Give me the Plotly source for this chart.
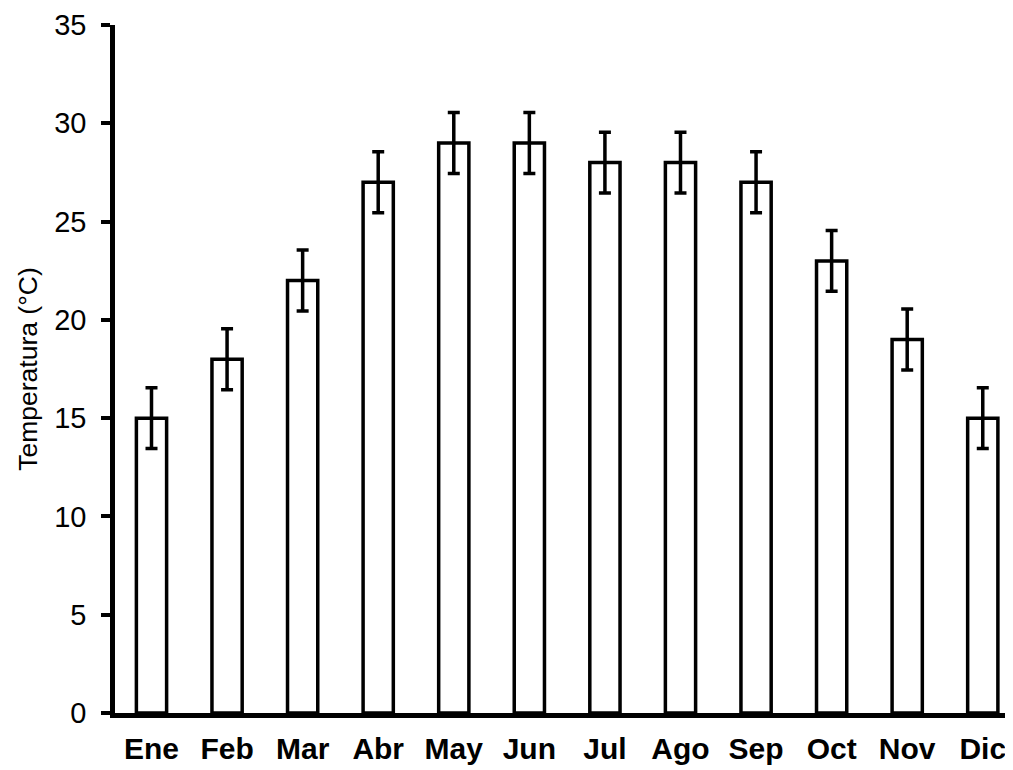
import plotly.graph_objects as go

months = ["Ene", "Feb", "Mar", "Abr", "May", "Jun", "Jul", "Ago", "Sep", "Oct", "Nov", "Dic"]
temps = [15, 18, 22, 27, 29, 29, 28, 28, 27, 23, 19, 15]
errors = [1.55, 1.55, 1.55, 1.55, 1.55, 1.55, 1.55, 1.55, 1.55, 1.55, 1.55, 1.55]
y_ticks = [0, 5, 10, 15, 20, 25, 30, 35]

FONT = "Liberation Sans, Arial, sans-serif"

fig = go.Figure(
    go.Bar(
        x=months,
        y=temps,
        width=0.4,
        marker=dict(color="white", line=dict(color="black", width=3.5)),
        error_y=dict(type="data", array=errors, visible=True,
                     color="black", thickness=3.5, width=6),
    )
)

# the page body adds an 8px offset, so the figure is sized to compensate
fig.update_layout(
    width=1005, height=762,
    margin=dict(l=107, r=0, t=17, b=57),
    plot_bgcolor="white", paper_bgcolor="white",
    showlegend=False,
    font=dict(family=FONT, color="black"),
)

fig.update_xaxes(
    type="category",
    range=[-0.483, 11.4],
    automargin=False,
    showline=True, linecolor="black", linewidth=4.5,
    showgrid=False, ticks="",
    tickfont=dict(size=30, family=FONT, weight="bold"),
    ticklabelstandoff=5,
)

fig.update_yaxes(
    range=[0, 35],
    automargin=False,
    tickvals=y_ticks,
    showline=True, linecolor="black", linewidth=4.5,
    showgrid=False, zeroline=False,
    ticks="outside", ticklen=9, tickwidth=4, tickcolor="black",
    tickfont=dict(size=29),
    ticklabelstandoff=9,
    title=dict(text="Temperatura (°C)", font=dict(size=26.5), standoff=10),
)

fig.write_html("out.html")
